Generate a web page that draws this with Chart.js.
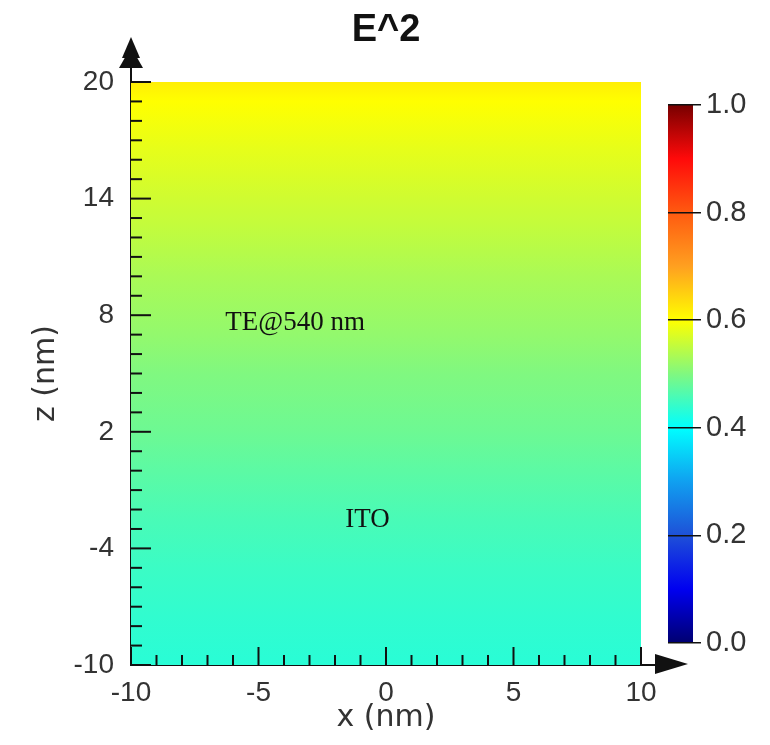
<!DOCTYPE html>
<html>
<head>
<meta charset="utf-8">
<title>E^2</title>
<script src="https://cdn.jsdelivr.net/npm/chart.js@4.4.1/dist/chart.umd.min.js"></script>
<style>
  body { margin: 0; background: #fff; }
  #wrap { position: relative; width: 770px; height: 745px; }
  #wrap canvas { position: absolute; left: 0; top: 0; }
</style>
</head>
<body>
<div id="wrap">
  <canvas id="fieldChart" width="770" height="745"></canvas>
  <canvas id="colorBar" width="770" height="745"></canvas>
</div>
<script>
// Axis ticks
const xTicks = [-10, -5, 0, 5, 10];
const zTicks = [20, 14, 8, 2, -4, -10];
const cbTicks = [0, 0.2, 0.4, 0.6, 0.8, 1.0];

// |E|^2 read along z (it does not change with x)
const zLevels  = [20, 19, 16.5, 14, 12.5, 10, 7, 5, 2, 0, -2.5, -5, -7.5, -10];
const e2Values = [0.618, 0.600, 0.580, 0.562, 0.552, 0.533, 0.515, 0.500, 0.485, 0.472, 0.457, 0.446, 0.438, 0.432];

// Colour map of the colour bar
const cbStops  = [0, 0.1, 0.2, 0.3, 0.4, 0.5, 0.6, 0.7, 0.8, 0.9, 1.0];
const cbColors = ['#000070', '#0000f0', '#1e50d8', '#10a0f0', '#00ffff', '#80f880',
                  '#ffff00', '#ffa020', '#ff5a10', '#ff0a0a', '#780000'];

// Text labels inside the plot
const notes = [
    { text: 'TE@540 nm', x: -6.3, z: 7.6 },
    { text: 'ITO', x: -1.6, z: -2.55 }
];

Chart.defaults.font.family = '"Liberation Sans", Arial, sans-serif';
Chart.defaults.color = '#333';

function hexToRgb(h) {
    return [parseInt(h.slice(1, 3), 16), parseInt(h.slice(3, 5), 16), parseInt(h.slice(5, 7), 16)];
}

// Look up a value in the colour map
function colorAt(v) {
    for (let i = 1; i < cbStops.length; i++) {
        if (v <= cbStops[i]) {
            const t = (v - cbStops[i - 1]) / (cbStops[i] - cbStops[i - 1]);
            const a = hexToRgb(cbColors[i - 1]);
            const b = hexToRgb(cbColors[i]);
            const c = a.map((ch, k) => Math.round(ch + (b[k] - ch) * t));
            return `rgb(${c[0]},${c[1]},${c[2]})`;
        }
    }
    return cbColors[cbColors.length - 1];
}

function fieldGradient(context) {
    const chart = context.chart;
    const { ctx, chartArea, scales } = chart;
    if (!chartArea) return null;
    const y = scales.y;
    const top = y.getPixelForValue(zLevels[0]);
    const bottom = y.getPixelForValue(zLevels[zLevels.length - 1]);
    const g = ctx.createLinearGradient(0, top, 0, bottom);
    zLevels.forEach((z, i) => {
        const pos = (y.getPixelForValue(z) - top) / (bottom - top);
        g.addColorStop(Math.min(1, Math.max(0, pos)), colorAt(e2Values[i]));
    });
    return g;
}

function barGradient(context) {
    const chart = context.chart;
    const { ctx, chartArea, scales } = chart;
    if (!chartArea) return null;
    const y = scales.y;
    const top = y.getPixelForValue(1);
    const bottom = y.getPixelForValue(0);
    const g = ctx.createLinearGradient(0, bottom, 0, top);
    cbStops.forEach((s, i) => g.addColorStop(s, cbColors[i]));
    return g;
}

function line(ctx, x1, y1, x2, y2) {
    ctx.beginPath();
    ctx.moveTo(x1, y1);
    ctx.lineTo(x2, y2);
    ctx.stroke();
}

function tri(ctx, p1, p2, p3) {
    ctx.beginPath();
    ctx.moveTo(p1[0], p1[1]);
    ctx.lineTo(p2[0], p2[1]);
    ctx.lineTo(p3[0], p3[1]);
    ctx.closePath();
    ctx.fill();
}

// Inside ticks, axis arrows and the text notes
const axisExtras = {
    id: 'axisExtras',
    afterDraw(chart) {
        const { ctx, chartArea: a, scales: { x, y } } = chart;
        ctx.save();
        ctx.strokeStyle = '#111';
        ctx.fillStyle = '#111';
        ctx.lineWidth = 2;

        for (let v = xTicks[0]; v <= xTicks[xTicks.length - 1]; v += 1) {
            const px = x.getPixelForValue(v);
            const len = xTicks.includes(v) ? 18 : 10;
            line(ctx, px, a.bottom, px, a.bottom - len);
        }
        for (let v = zTicks[zTicks.length - 1]; v <= zTicks[0]; v += 1) {
            const py = y.getPixelForValue(v);
            const len = zTicks.includes(v) ? 20 : 11;
            line(ctx, a.left, py, a.left + len, py);
        }

        // y axis arrow
        line(ctx, a.left, a.top, a.left, 60);
        tri(ctx, [a.left, 37], [a.left - 9, 58], [a.left + 9, 58]);
        tri(ctx, [a.left, 47], [a.left - 12, 68], [a.left + 12, 68]);

        // x axis arrow
        line(ctx, a.right, a.bottom, 665, a.bottom);
        tri(ctx, [688, a.bottom - 1], [655, a.bottom - 11], [655, a.bottom + 9]);

        ctx.font = '27px "Liberation Serif", "Times New Roman", serif';
        ctx.fillStyle = '#111';
        ctx.textAlign = 'left';
        ctx.textBaseline = 'middle';
        notes.forEach(n => {
            ctx.fillText(n.text, x.getPixelForValue(n.x), y.getPixelForValue(n.z));
        });
        ctx.restore();
    }
};

new Chart(document.getElementById('fieldChart'), {
    type: 'line',
    data: {
        datasets: [{
            label: 'E^2',
            data: [
                { x: xTicks[0], y: zTicks[0] },
                { x: xTicks[xTicks.length - 1], y: zTicks[0] }
            ],
            fill: 'start',
            backgroundColor: fieldGradient,
            borderWidth: 0,
            pointRadius: 0
        }]
    },
    options: {
        responsive: false,
        animation: false,
        layout: { padding: { left: 0, right: 129, top: 0, bottom: 0 } },
        plugins: {
            legend: { display: false },
            tooltip: { enabled: false },
            title: {
                display: true,
                fullSize: false,
                text: 'E^2',
                color: '#111',
                font: { size: 38, weight: 'bold' },
                padding: { top: 8, bottom: 28.4 }
            }
        },
        scales: {
            x: {
                type: 'linear',
                min: xTicks[0],
                max: xTicks[xTicks.length - 1],
                afterBuildTicks: s => { s.ticks = xTicks.map(v => ({ value: v })); },
                afterFit: s => { s.height = 80; },
                grid: { display: false },
                border: { display: true, color: '#111', width: 2 },
                ticks: { font: { size: 28 }, padding: 3, maxRotation: 0, autoSkip: false },
                title: {
                    display: true,
                    text: 'x (nm)',
                    font: { size: 30, family: '"DejaVu Sans", sans-serif' },
                    padding: { top: 0, bottom: 9 }
                }
            },
            y: {
                type: 'linear',
                min: zTicks[zTicks.length - 1],
                max: zTicks[0],
                afterBuildTicks: s => { s.ticks = zTicks.map(v => ({ value: v })); },
                afterFit: s => { s.width = 131; },
                grid: { display: false },
                border: { display: true, color: '#111', width: 2 },
                ticks: { font: { size: 28 }, padding: 9 },
                title: {
                    display: true,
                    text: 'z (nm)',
                    font: { size: 30, family: '"DejaVu Sans", sans-serif' },
                    padding: { top: 28, bottom: 0 }
                }
            }
        }
    },
    plugins: [axisExtras]
});

// Colour bar as its own small bar chart
new Chart(document.getElementById('colorBar'), {
    type: 'bar',
    data: {
        labels: ['E^2'],
        datasets: [{
            data: [[cbTicks[0], cbTicks[cbTicks.length - 1]]],
            backgroundColor: barGradient,
            borderWidth: 0,
            barPercentage: 1,
            categoryPercentage: 1
        }]
    },
    options: {
        responsive: false,
        animation: false,
        layout: { padding: { left: 668, right: 0, top: 105, bottom: 102 } },
        plugins: {
            legend: { display: false },
            tooltip: { enabled: false }
        },
        scales: {
            x: { display: false },
            y: {
                position: 'right',
                min: cbTicks[0],
                max: cbTicks[cbTicks.length - 1],
                afterBuildTicks: s => { s.ticks = cbTicks.map(v => ({ value: v })); },
                afterFit: s => { s.width = 77; },
                grid: { color: '#111', lineWidth: 1.5, tickLength: 8, z: 1 },
                border: { display: false },
                ticks: {
                    font: { size: 29 },
                    padding: 5,
                    callback: v => v.toFixed(1)
                }
            }
        }
    }
});
</script>
</body>
</html>
